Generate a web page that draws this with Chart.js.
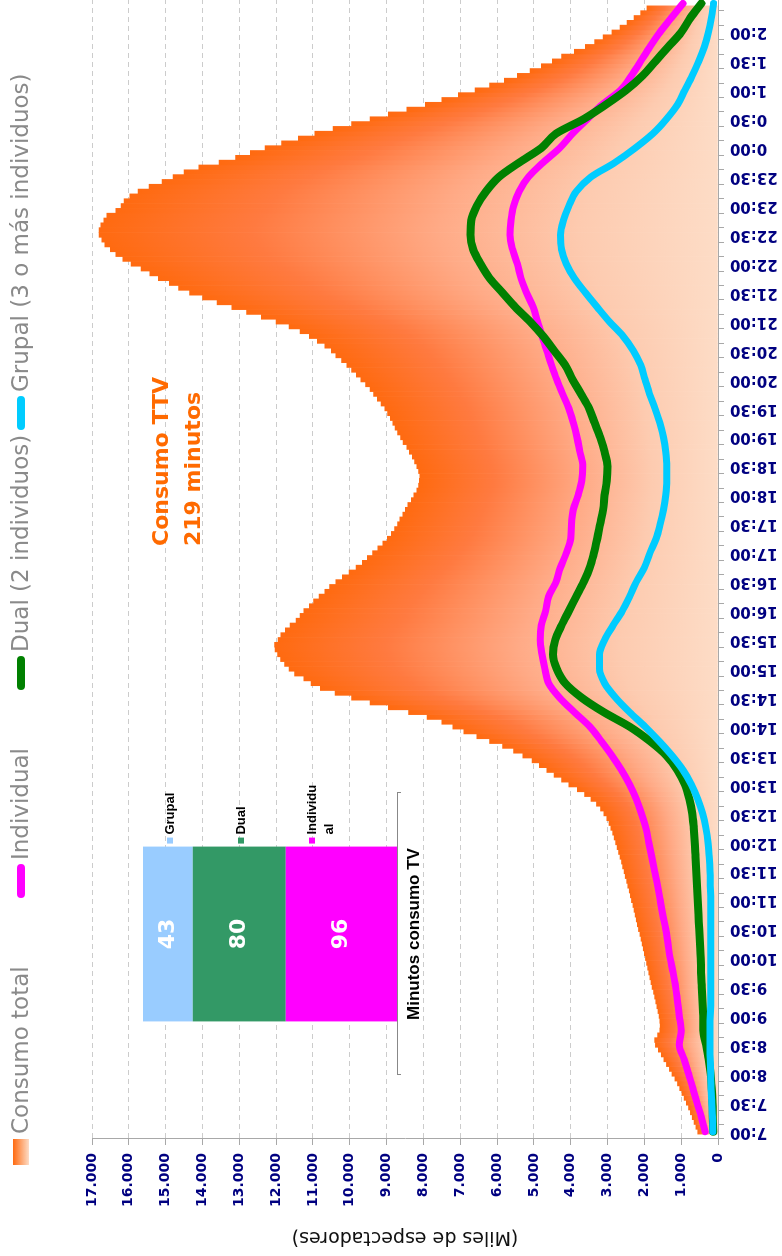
<!DOCTYPE html>
<html>
<head>
<meta charset="utf-8">
<script src="https://cdn.jsdelivr.net/npm/chart.js@4.4.1/dist/chart.umd.min.js"></script>
<style>
  html, body { margin: 0; padding: 0; background: #fff; overflow: hidden; }
  /* the chart is drawn landscape, then turned a quarter turn to the left */
  #wrap { position: absolute; left: 0; top: 0; width: 1256px; height: 782px;
          transform-origin: 0 0; transform: translateY(1256px) rotate(-90deg); }
  #wrap canvas { position: absolute; }
  #main { left: 0; top: 0; }
  #inset { left: 150px; top: 100px; }
</style>
</head>
<body>
<div id="wrap">
  <canvas id="main" width="1256" height="782"></canvas>
  <canvas id="inset" width="340" height="340"></canvas>
</div>
<script>
'use strict';

// minutes after 7:00, one bar every 5 minutes, lines every 15 minutes
var firstHour = 7;
var totalStep = 5;
var lineStep = 15;

// Consumo total (miles de espectadores), 7:00 -> 2:25
var totalValues = [
  550, 600, 650, 700, 750, 800, 860, 920, 980, 1040, 1100, 1170,        // 7h
  1250, 1320, 1400, 1470, 1540, 1620, 1700, 1720, 1640, 1580, 1570, 1580, // 8h
  1600, 1630, 1660, 1690, 1720, 1750, 1790, 1820, 1850, 1880, 1910, 1940, // 9h
  1970, 2000, 2030, 2060, 2090, 2120, 2160, 2190, 2220, 2250, 2280, 2310, // 10h
  2350, 2380, 2410, 2450, 2480, 2520, 2550, 2590, 2620, 2660, 2700, 2740, // 11h
  2780, 2820, 2860, 2910, 2960, 3020, 3100, 3190, 3300, 3450, 3620, 3820, // 12h
  4050, 4250, 4450, 4650, 4850, 5050, 5300, 5550, 5850, 6200, 6550, 6900, // 13h
  7200, 7500, 7900, 8400, 8950, 9450, 9950, 10400, 10800, 11050, 11250, 11500, // 14h
  11650, 11770, 11880, 11960, 12030, 12040, 11950, 11870, 11750, 11620, 11460, 11350, // 15h
  11250, 11100, 10980, 10830, 10680, 10550, 10380, 10200, 10020, 9830, 9660, 9520, // 16h
  9380, 9240, 9100, 8980, 8870, 8780, 8700, 8640, 8560, 8490, 8420, 8330, // 17h
  8260, 8180, 8130, 8110, 8100, 8130, 8180, 8240, 8300, 8380, 8450, 8550, // 18h
  8620, 8700, 8770, 8830, 8900, 8970, 9050, 9150, 9250, 9350, 9450, 9570, // 19h
  9700, 9820, 9950, 10080, 10220, 10380, 10500, 10680, 10880, 11100, 11350, 11650, // 20h
  12000, 12400, 12800, 13200, 13600, 14000, 14350, 14650, 14900, 15200, 15430, 15670, // 21h
  15940, 16160, 16350, 16500, 16650, 16730, 16810, 16810, 16760, 16680, 16600, 16350, // 22h
  16210, 16130, 15970, 15750, 15450, 15100, 14800, 14500, 14100, 13550, 13100, 12700, // 23h
  12300, 11850, 11400, 10950, 10450, 9950, 9450, 8950, 8450, 7950, 7500, 7050, // 0h
  6600, 6200, 5800, 5450, 5100, 4800, 4500, 4250, 3900, 3600, 3350, 3120, // 1h
  2880, 2660, 2470, 2280, 2100, 1930                                      // 2h
];

// lines, 7:00 -> 2:30 every 15 minutes
var individualValues = [
  350, 450, 570, 680, 800, 920, 1050, 1000, 1050, 1100, 1150, 1220,
  1300, 1360, 1420, 1500, 1570, 1640, 1720, 1800, 1880, 1960, 2080, 2220,
  2400, 2620, 2880, 3170, 3480, 3900, 4300, 4600, 4700, 4780, 4830, 4800,
  4680, 4600, 4400, 4280, 4120, 4000, 3980, 3930, 3800, 3700, 3670, 3750,
  3830, 3930, 4050, 4220, 4380, 4520, 4650, 4780, 4900, 5020, 5200, 5350,
  5450, 5580, 5650, 5620, 5550, 5400, 5150, 4750, 4300, 3950, 3550, 3150,
  2650, 2350, 2100, 1850, 1580, 1270, 950
];
var dualValues = [
  130, 140, 150, 170, 200, 250, 320, 400, 400, 420, 440, 460,
  470, 490, 510, 530, 550, 570, 590, 610, 630, 660, 700, 780,
  900, 1100, 1400, 1850, 2400, 3100, 3700, 4150, 4380, 4480, 4420, 4250,
  4050, 3850, 3650, 3480, 3370, 3280, 3200, 3120, 3080, 3020, 3000, 3080,
  3200, 3350, 3500, 3720, 3950, 4150, 4450, 4750, 5100, 5500, 5850, 6200,
  6450, 6650, 6720, 6700, 6550, 6300, 5950, 5400, 4800, 4400, 3650, 3050,
  2500, 2050, 1700, 1350, 1000, 750, 450
];
var grupalValues = [
  140, 150, 170, 190, 200, 210, 220, 220, 210, 200, 200, 200,
  200, 200, 200, 200, 200, 210, 220, 240, 270, 330, 420, 550,
  720, 950, 1250, 1600, 1980, 2400, 2780, 3080, 3220, 3220, 3080, 2850,
  2600, 2400, 2220, 2000, 1850, 1680, 1570, 1480, 1420, 1390, 1390, 1420,
  1480, 1580, 1710, 1860, 1980, 2100, 2300, 2580, 2950, 3280, 3600, 3900,
  4120, 4250, 4280, 4200, 4050, 3850, 3450, 2800, 2250, 1770, 1400, 1100,
  900, 700, 520, 370, 260, 180, 120
];

var seriesNames = ['Consumo total', 'Individual', 'Dual (2 individuos)', 'Grupal (3 o más individuos)'];
var seriesColors = ['#ff6a10', '#ff00ff', '#008000', '#00ccff'];
var noteLines = ['Consumo TTV', '219 minutos'];

// inset: minutes of TV per viewing mode (bottom to top of the stack)
var insetNames = ['Individual', 'Dual', 'Grupal'];
var insetValues = [96, 80, 43];
var insetColors = ['#ff00ff', '#339966', '#99ccff'];
var insetLegendLines = [['Individu', 'al'], ['Dual'], ['Grupal']];

var FONT = 'DejaVu Sans';

function toPoints(values, step) {
  return values.map(function (v, i) { return { x: i * step, y: v }; });
}

function timeLabel(m) {
  var h = (firstHour + Math.floor(m / 60)) % 24;
  var mm = m % 60;
  return h + ':' + (mm < 10 ? '0' : '') + mm;
}

function thousands(v) {
  return String(v).replace(/\B(?=(\d{3})+(?!\d))/g, '.');
}

// each bar fades from orange at its top to pale peach at the base
function barGradient(ctx) {
  var chart = ctx.chart;
  var ys = chart.scales.y;
  if (!ys || !ctx.raw) return '#ff8a50';
  var top = ys.getPixelForValue(ctx.raw.y);
  var base = ys.getPixelForValue(0);
  if (!isFinite(top) || !isFinite(base) || top === base) return '#ff8a50';
  var g = chart.ctx.createLinearGradient(0, top, 0, base);
  g.addColorStop(0, '#ff6a10');
  g.addColorStop(0.25, '#ff7a40');
  g.addColorStop(0.55, '#ffaa86');
  g.addColorStop(0.78, '#fdcbb0');
  g.addColorStop(1, '#fddcc6');
  return g;
}

var legendAndNote = {
  id: 'legendAndNote',
  afterDraw: function (chart) {
    var c = chart.ctx;
    c.save();
    // legend row
    var y = 21;
    var items = [
      { x: 91, tx: 122 },
      { x: 358, tx: 396 },
      { x: 566, tx: 604 },
      { x: 826, tx: 864 }
    ];
    items.forEach(function (it, i) {
      if (i === 0) {
        var g = c.createLinearGradient(0, y - 8, 0, y + 8);
        g.addColorStop(0, '#ff6a10');
        g.addColorStop(1, '#fddcc6');
        c.fillStyle = g;
        c.fillRect(it.x, y - 8, 26, 16);
      } else {
        c.strokeStyle = seriesColors[i];
        c.lineWidth = 8;
        c.lineCap = 'round';
        c.beginPath();
        c.moveTo(it.x + 4, y);
        c.lineTo(it.x + 30, y);
        c.stroke();
      }
      c.fillStyle = '#8a8a8a';
      c.font = '23px "DejaVu Sans"';
      c.textBaseline = 'middle';
      c.textAlign = 'left';
      c.fillText(seriesNames[i], it.tx, y + 1);
    });
    // note
    c.fillStyle = '#ff6a00';
    c.font = 'bold 22px "DejaVu Sans"';
    c.textBaseline = 'alphabetic';
    c.fillText(noteLines[0], 710, 168);
    c.fillText(noteLines[1], 710, 200);
    c.restore();
  }
};

var xTicks = [];
for (var m = 0; m <= 1165; m += lineStep) xTicks.push(m);

new Chart(document.getElementById('main'), {
  data: {
    datasets: [
      {
        type: 'bar',
        label: seriesNames[0],
        data: toPoints(totalValues, totalStep),
        backgroundColor: barGradient,
        borderWidth: 0,
        barPercentage: 1,
        categoryPercentage: 1,
        order: 3
      },
      {
        type: 'line',
        label: seriesNames[1],
        data: toPoints(individualValues, lineStep),
        borderColor: seriesColors[1],
        borderWidth: 7,
        pointRadius: 0,
        cubicInterpolationMode: 'monotone',
        borderCapStyle: 'round',
        borderJoinStyle: 'round',
        order: 2
      },
      {
        type: 'line',
        label: seriesNames[2],
        data: toPoints(dualValues, lineStep),
        borderColor: seriesColors[2],
        borderWidth: 8,
        pointRadius: 0,
        cubicInterpolationMode: 'monotone',
        borderCapStyle: 'round',
        borderJoinStyle: 'round',
        order: 1
      },
      {
        type: 'line',
        label: seriesNames[3],
        data: toPoints(grupalValues, lineStep),
        borderColor: seriesColors[3],
        borderWidth: 7,
        pointRadius: 0,
        cubicInterpolationMode: 'monotone',
        borderCapStyle: 'round',
        borderJoinStyle: 'round',
        order: 0
      }
    ]
  },
  options: {
    responsive: false,
    animation: false,
    events: [],
    layout: { padding: { top: 92, left: 0, right: 0, bottom: 0 } },
    plugins: { legend: { display: false }, tooltip: { enabled: false } },
    scales: {
      x: {
        type: 'linear',
        min: 0,
        max: 1166,
        afterBuildTicks: function (axis) {
          axis.ticks = xTicks.map(function (v) { return { value: v }; });
        },
        afterFit: function (axis) {
          axis.height = 64;
          axis.paddingLeft = 0;
          axis.paddingRight = 0;
        },
        ticks: {
          autoSkip: false,
          minRotation: 90,
          maxRotation: 90,
          padding: 6,
          color: '#000080',
          font: { family: FONT, size: 15, weight: 'bold' },
          callback: function (v) { return v % 30 === 0 ? timeLabel(v) : ''; }
        },
        grid: { drawOnChartArea: false, drawTicks: true, tickLength: 6, color: '#a8a8a8' },
        border: { display: true, color: '#a8a8a8' }
      },
      y: {
        min: 0,
        max: 17000,
        afterFit: function (axis) { axis.width = 117; },
        ticks: {
          stepSize: 1000,
          padding: 8,
          color: '#000080',
          font: { family: FONT, size: 14, weight: 'bold' },
          callback: function (v) { return thousands(v); }
        },
        grid: { color: '#cccccc', tickLength: 6, tickColor: '#a8a8a8' },
        border: { display: true, color: '#a8a8a8', dash: [5, 4] },
        title: {
          display: true,
          text: '(Miles de espectadores)',
          color: '#111',
          padding: { top: 8, bottom: 0 },
          font: { family: FONT, size: 19 }
        }
      }
    }
  },
  plugins: [legendAndNote]
});

// inset stacked bar
var insetLabelsPlugin = {
  id: 'insetLabels',
  afterDatasetsDraw: function (chart) {
    var c = chart.ctx;
    c.save();
    var right = 0;
    chart.data.datasets.forEach(function (ds, i) {
      var bar = chart.getDatasetMeta(i).data[0];
      var midY = (bar.y + bar.base) / 2;
      c.fillStyle = '#fff';
      c.font = 'bold 22px "DejaVu Sans"';
      c.textAlign = 'center';
      c.textBaseline = 'middle';
      c.fillText(String(insetValues[i]), bar.x, midY);
      right = bar.x + bar.width / 2;
    });
    // legend beside the stack, Grupal first
    var ty = 70;
    c.font = 'bold 13px "Liberation Sans"';
    c.textAlign = 'left';
    c.textBaseline = 'middle';
    for (var i = insetNames.length - 1; i >= 0; i--) {
      c.fillStyle = insetColors[i];
      c.fillRect(right + 3, ty - 3, 6, 6);
      c.fillStyle = '#000';
      insetLegendLines[i].forEach(function (line, k) {
        c.fillText(line, right + 12, ty + k * 17);
      });
      ty += 71;
    }
    c.restore();
  }
};

new Chart(document.getElementById('inset'), {
  type: 'bar',
  data: {
    labels: [''],
    datasets: insetNames.map(function (n, i) {
      return { label: n, data: [insetValues[i]], backgroundColor: insetColors[i], borderWidth: 0 };
    })
  },
  options: {
    responsive: false,
    animation: false,
    events: [],
    layout: { padding: { top: 43, left: 31, right: 27, bottom: 0 } },
    datasets: { bar: { barPercentage: 0.62, categoryPercentage: 1 } },
    plugins: { legend: { display: false }, tooltip: { enabled: false } },
    scales: {
      x: {
        stacked: true,
        afterFit: function (axis) { axis.height = 43; },
        ticks: { display: false },
        grid: { offset: true, drawOnChartArea: false, tickLength: 4, color: '#888' },
        border: { color: '#888' },
        title: {
          display: true,
          text: 'Minutos consumo TV',
          color: '#000',
          padding: { top: 0, bottom: 15 },
          font: { family: 'Liberation Sans', size: 17, weight: 'bold' }
        }
      },
      y: { stacked: true, display: false, min: 0, max: 219 }
    }
  },
  plugins: [insetLabelsPlugin]
});
</script>
</body>
</html>
